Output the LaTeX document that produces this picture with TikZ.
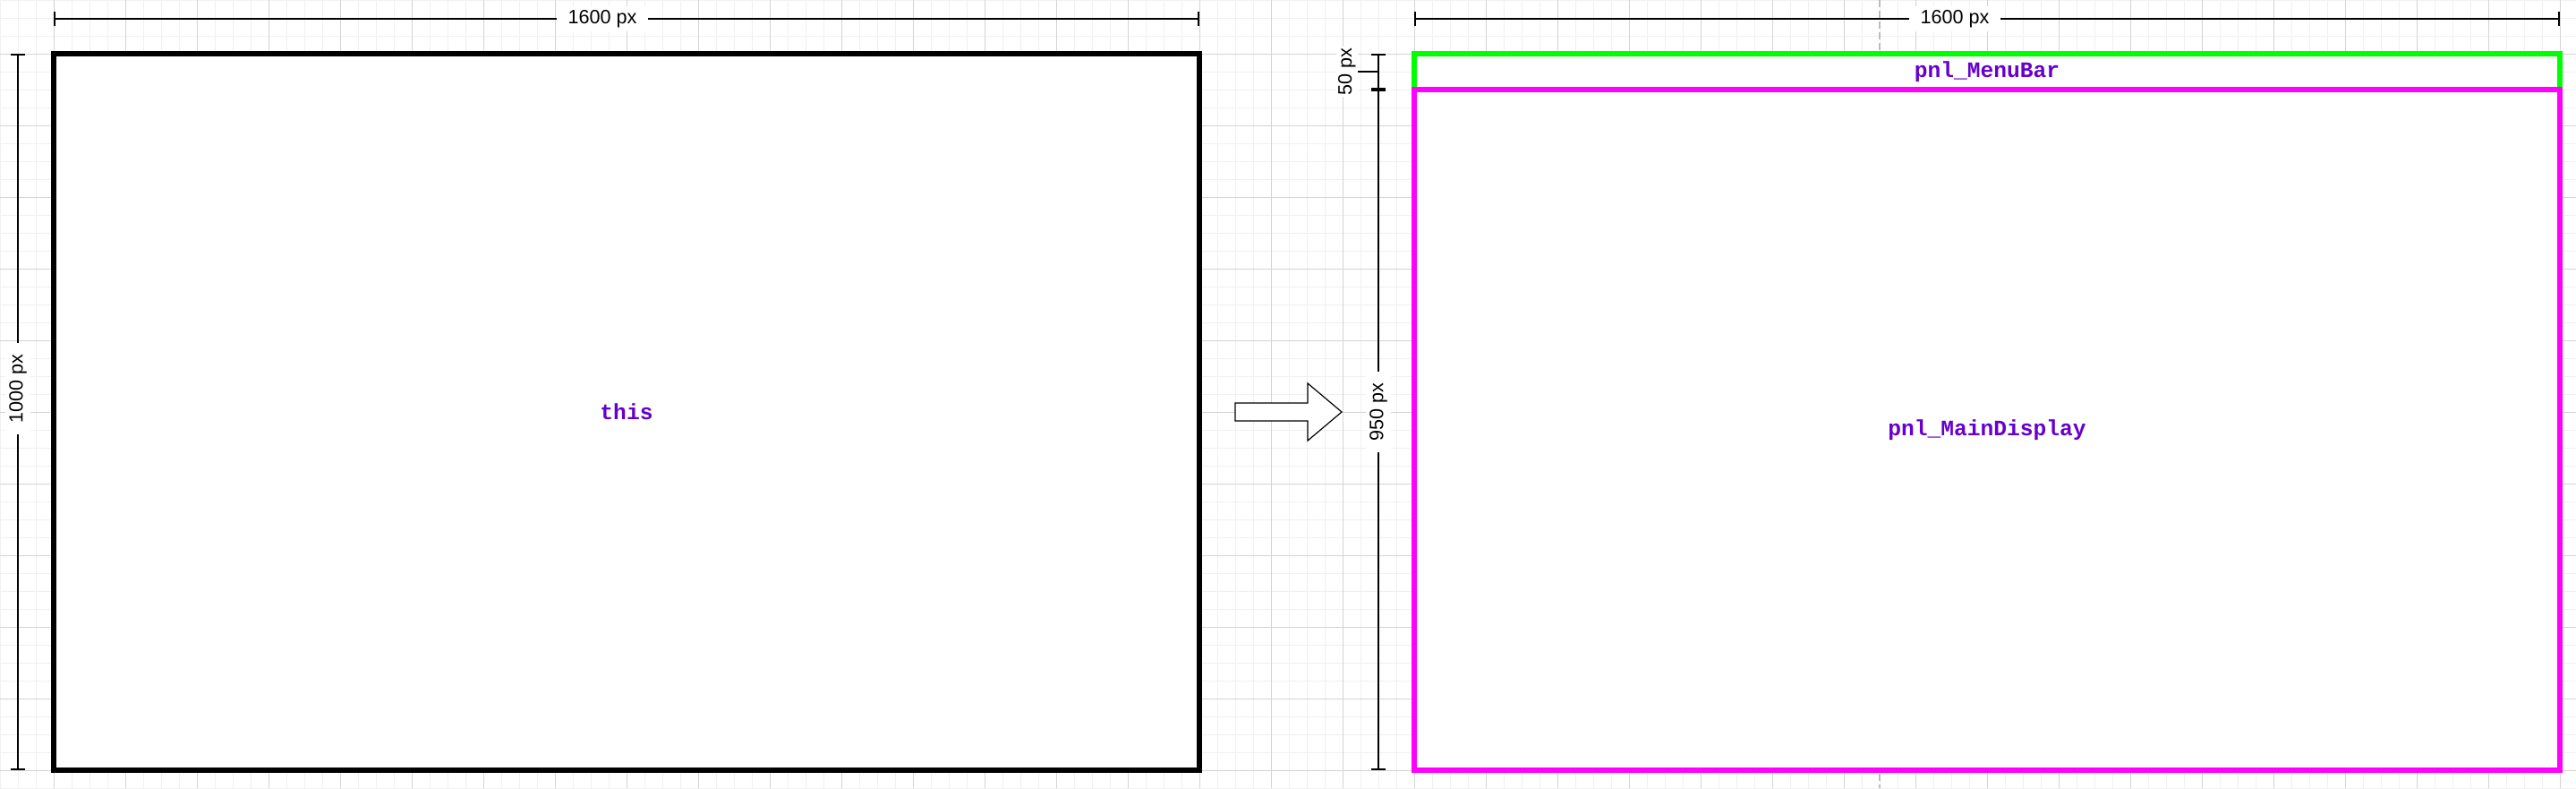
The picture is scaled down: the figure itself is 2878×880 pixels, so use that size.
\documentclass[tikz,border=0pt]{standalone}
\usepackage{fontspec}
\setmainfont{Liberation Sans}
\newfontfamily\codefont{Liberation Mono}
\usetikzlibrary{arrows.meta}

\definecolor{gridminor}{HTML}{F0F0F0}
\definecolor{gridmajor}{HTML}{D4D4D4}
\definecolor{guidegray}{HTML}{BBBBBB}
\definecolor{menugreen}{HTML}{00FF00}
\definecolor{mainmagenta}{HTML}{FF00FF}
\definecolor{labelpurple}{HTML}{6600CC}

\tikzset{
  dimline/.style={line width=0.9pt, {Bar[width=8pt]}-{Bar[width=8pt]}},
  dimlabel/.style={fill=white, inner xsep=6.5pt, inner ysep=2pt, font=\fontsize{10.8}{13}\selectfont},
  codelabel/.style={text=labelpurple, font=\codefont\bfseries\fontsize{12.3}{14}\selectfont},
  panel/.style={fill=white, line width=2.7pt},
}

\begin{document}
\begin{tikzpicture}[x=0.5pt, y=-0.5pt]
  \def\topY{21}
  \useasboundingbox (0,0) rectangle (2878,880);

  % grid
  \foreach \g in {0,20,...,2860} \draw[gridminor, line width=0.5pt] (\g,0) -- (\g,880);
  \foreach \g in {0,20,...,880} \draw[gridminor, line width=0.5pt] (0,\g) -- (2878,\g);
  \foreach \g in {60,140,...,2860} \draw[gridmajor, line width=0.5pt] (\g,0) -- (\g,880);
  \foreach \g in {60,140,...,860} \draw[gridmajor, line width=0.5pt] (0,\g) -- (2878,\g);
  \draw[guidegray, line width=0.7pt, dash pattern=on 4pt off 2pt] (2100,0) -- (2100,880);

  % before
  \draw[panel, line width=3pt] (60,60) rectangle (1340,860);
  \node[codelabel] (this) at (700,460) {this};

  \coordinate (bwL) at (60,\topY);   \coordinate (bwR) at (1340,\topY);
  \coordinate (bhT) at (20,60);      \coordinate (bhB) at (20,860);
  \draw[dimline] (bwL) -- (bwR);
  \draw[dimline] (bhT) -- (bhB);
  \node[dimlabel] (bwidth) at (673,\topY) {1600 px};
  \node[dimlabel, rotate=90] (bheight) at (20,434) {1000 px};

  % arrow
  \draw[line width=0.6pt, fill=white] (1380,450) -- (1461,450) -- (1461,428) -- (1499,460)
    -- (1461,492) -- (1461,470) -- (1380,470) -- cycle;

  % after
  \draw[panel, draw=menugreen] (1580,60) rectangle (2860,100);
  \draw[panel, draw=mainmagenta] (1580,100) rectangle (2860,860);
  \node[codelabel] (menubar) at (2220,80) {pnl\_MenuBar};
  \node[codelabel] (maindisplay) at (2220,480) {pnl\_MainDisplay};

  \coordinate (awL) at (1580,\topY); \coordinate (awR) at (2860,\topY);
  \coordinate (amT) at (1540,60);    \coordinate (amB) at (1540,100);
  \coordinate (adB) at (1540,860);   \coordinate (amLead) at (1517,80);
  \draw[dimline] (awL) -- (awR);
  \draw[dimline] (amT) -- (amB);
  \draw[dimline] (amB) -- (adB);
  \draw[line width=0.9pt] (1540,80) -- (amLead);
  \node[dimlabel] (awidth) at (2184,\topY) {1600 px};
  \node[dimlabel, rotate=90] (adisplay) at (1540,460) {950 px};
  \node[dimlabel, rotate=90, inner xsep=1pt, inner ysep=1pt, anchor=south] (amenu) at (amLead) {50 px};
\end{tikzpicture}
\end{document}
